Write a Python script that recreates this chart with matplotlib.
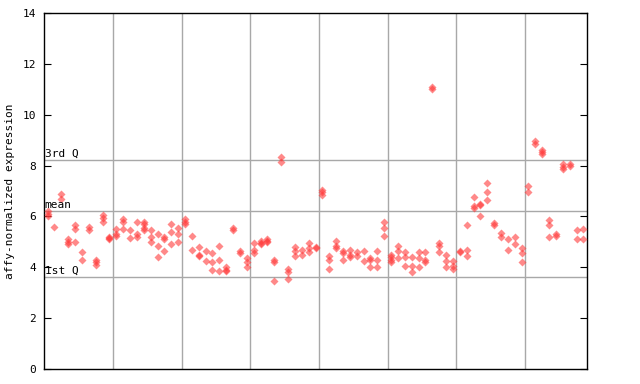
# Expression scatter: one column of replicate values per sample, quartile guide lines.

import numpy as np
import matplotlib
matplotlib.use("Agg")
import matplotlib.pyplot as plt

# values per sample column
samples = [
    [6.2, 6.1, 6.0], [5.6], [6.9, 6.7], [5.1, 5.0, 4.9], [5.65, 5.5, 5.0],
    [4.6, 4.3], [5.6, 5.45], [4.3, 4.2, 4.1], [6.05, 5.95, 5.8], [5.2, 5.15, 5.1],
    [5.5, 5.3, 5.25], [5.9, 5.8, 5.5], [5.45, 5.15], [5.8, 5.3, 5.2], [5.8, 5.7, 5.55, 5.45],
    [5.45, 5.2, 5.0], [5.3, 4.85, 4.4], [5.2, 5.1, 4.65], [5.7, 5.4, 4.9], [5.55, 5.3, 5.0],
    [5.9, 5.8, 5.7], [5.25, 4.7], [4.8, 4.5, 4.45], [4.65, 4.25], [4.55, 4.2, 3.9],
    [4.85, 4.3, 3.85], [4.0, 3.9, 3.85], [5.55, 5.45], [4.65, 4.55], [4.35, 4.2, 4.0],
    [4.95, 4.7, 4.55], [5.05, 4.95, 4.9], [5.1, 5.05, 5.0], [4.3, 4.2, 3.45], [8.35, 8.15],
    [3.95, 3.8, 3.55], [4.8, 4.65, 4.45], [4.7, 4.5], [4.95, 4.75, 4.6], [4.8, 4.75],
    [7.05, 6.95, 6.85], [4.45, 4.3, 3.95], [5.05, 4.85, 4.75], [4.65, 4.55, 4.3], [4.7, 4.5, 4.4],
    [4.6, 4.45], [4.65, 4.25], [4.35, 4.3, 4.0], [4.65, 4.3, 4.0], [5.8, 5.55, 5.25],
    [4.5, 4.4, 4.3, 4.2], [4.85, 4.65, 4.35], [4.6, 4.4, 4.05], [4.4, 4.05, 3.8], [4.6, 4.35, 4.0],
    [4.6, 4.3, 4.2], [11.1, 11.0], [4.95, 4.85, 4.6], [4.5, 4.25, 4.0], [4.25, 4.05, 3.95],
    [4.65, 4.6], [5.65, 4.7, 4.45], [6.75, 6.4, 6.35], [6.5, 6.45, 6.0], [7.3, 6.95, 6.65],
    [5.75, 5.65], [5.35, 5.2], [5.1, 4.7], [5.2, 4.9], [4.75, 4.55, 4.2],
    [7.2, 6.95], [8.95, 8.85], [8.6, 8.55, 8.45], [5.85, 5.65, 5.2], [5.3, 5.25],
    [8.05, 7.95, 7.85], [8.05, 8.0], [5.45, 5.1], [5.5, 5.1],
]

q1, mean_val, q3 = 3.62, 6.21, 8.22
group_size = 10

xs = np.concatenate([[i] * len(v) for i, v in enumerate(samples)])
ys = np.concatenate(samples)

plt.rcParams['font.family'] = ['DejaVu Sans Mono']

fig = plt.figure(figsize=(6.4, 3.84), dpi=100)
ax = fig.add_axes([0.069, 0.039, 0.848, 0.927])

n = len(samples)
for g in np.arange(group_size - 0.5, n - 1, group_size):
    ax.axvline(g, color='#a8a8a8', lw=1, zorder=1)
for q in (q1, mean_val, q3):
    ax.axhline(q, color='#a8a8a8', lw=1, zorder=1)

ax.plot(xs, ys, 'D', ms=3.8, color='#ff3a3a', alpha=0.6, mec='none', zorder=3)

ax.text(-0.45, q3 + 0.04, '3rd Q', fontsize=8, va='bottom', ha='left')
ax.text(-0.45, mean_val + 0.04, 'mean', fontsize=8, va='bottom', ha='left')
ax.text(-0.45, q1 + 0.04, '1st Q', fontsize=8, va='bottom', ha='left')

ax.set_xlim(-0.5, n - 0.5)
ax.set_ylim(0, 14)
ax.set_yticks(range(0, 15, 2))
ax.set_xticks([])
ax.tick_params(axis='y', direction='in', length=5, labelsize=8, right=True, pad=6)
ax.set_ylabel('affy-normalized expression', fontsize=8)
ax.yaxis.set_label_coords(-0.053, 0.5)
for s in ax.spines.values():
    s.set_linewidth(1)

fig.savefig('out.png', dpi=100)
